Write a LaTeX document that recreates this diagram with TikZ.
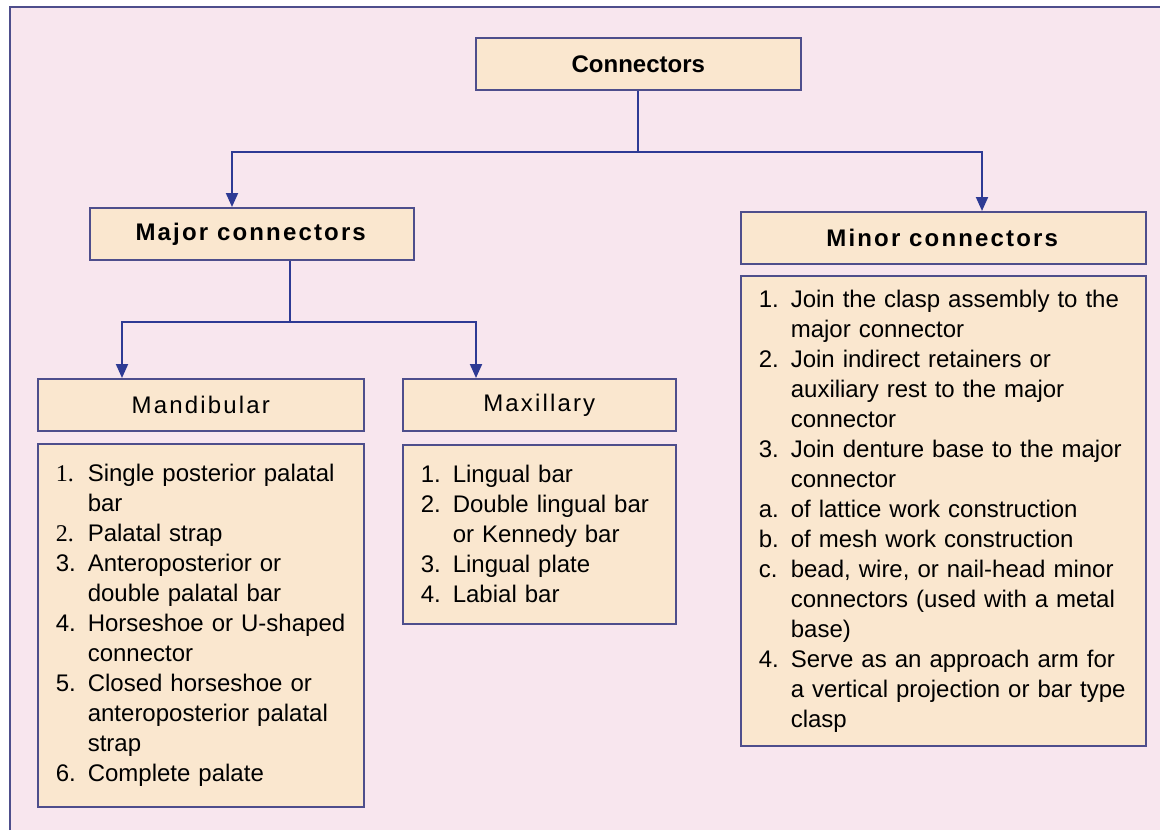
\documentclass[tikz,border=0pt]{standalone}
\usepackage{fontspec}
\setmainfont{Liberation Sans}
\newfontfamily\numserif{Liberation Serif}
\usepackage{xcolor}
\usetikzlibrary{arrows.meta,positioning}
\definecolor{pagepink}{HTML}{F8E6EE}
\definecolor{boxfill}{HTML}{FAE7CF}
\definecolor{boxline}{HTML}{4E4E8C}
\definecolor{arrline}{HTML}{2E3A94}
\newcommand{\itemno}[1]{\makebox[16pt][l]{#1}}
\newcommand{\itemgap}{\hspace*{16pt}}

\begin{document}
\begin{tikzpicture}[
  x=0.5pt, y=-0.5pt,
  font=\fontsize{12}{15}\selectfont,
  hbox/.style={draw=boxline, line width=0.8pt, fill=boxfill, anchor=north west,
               inner sep=0pt, minimum height=26pt, align=center},
  lbox/.style={draw=boxline, line width=0.8pt, fill=boxfill, anchor=north west,
               inner xsep=9pt, inner ysep=0pt, align=left},
  spaced/.style={font=\fontsize{12}{15}\selectfont\addfontfeatures{LetterSpace=9}},
  arr/.style={-{Triangle[length=7pt, width=6pt]}, line width=1pt, draw=arrline},
  link/.style={line width=1pt, draw=arrline},
]
\useasboundingbox (0,0) rectangle (1160,830);
\fill[pagepink] (10,7) rectangle (1160,830);
\draw[boxline, line width=1pt] (10,830) -- (10,7) -- (1160,7);

\node[hbox, minimum width=162.5pt] (conn) at (475,37) {\textbf{Connectors}};
\node[hbox, minimum width=162pt, spaced] (major) at (89,207)
  {\textbf{Major connectors}};
\node[hbox, minimum width=202.5pt, spaced] (minor) at (740,211)
  {\textbf{Minor connectors}};
\node[hbox, minimum width=163pt, spaced] (mand) at (37,378) {Mandibular};
\node[hbox, minimum width=136.5pt, spaced] (maxi) at (402,378) {Maxillary};

\node[lbox, text width=145pt, minimum height=181.5pt] (mandlist) at (37,443)
  {\itemno{\numserif 1.}Single posterior palatal\\
   \itemgap bar\\
   \itemno{\numserif 2.}Palatal strap\\
   \itemno{3.}Anteroposterior or\\
   \itemgap double palatal bar\\
   \itemno{4.}Horseshoe or U-shaped\\
   \itemgap connector\\
   \itemno{5.}Closed horseshoe or\\
   \itemgap anteroposterior palatal\\
   \itemgap strap\\
   \itemno{6.}Complete palate};
\node[lbox, text width=118.5pt, minimum height=89.5pt] (maxilist) at (402,444)
  {\itemno{1.}Lingual bar\\
   \itemno{2.}Double lingual bar\\
   \itemgap or Kennedy bar\\
   \itemno{3.}Lingual plate\\
   \itemno{4.}Labial bar};
\node[lbox, text width=184.5pt, minimum height=235pt] (minorlist) at (740,275)
  {\itemno{1.}Join the clasp assembly to the\\
   \itemgap major connector\\
   \itemno{2.}Join indirect retainers or\\
   \itemgap auxiliary rest to the major\\
   \itemgap connector\\
   \itemno{3.}Join denture base to the major\\
   \itemgap connector\\
   \itemno{a.}of lattice work construction\\
   \itemno{b.}of mesh work construction\\
   \itemno{c.}bead, wire, or nail-head minor\\
   \itemgap connectors (used with a metal\\
   \itemgap base)\\
   \itemno{4.}Serve as an approach arm for\\
   \itemgap a vertical projection or bar type\\
   \itemgap clasp};

\coordinate (split1) at (conn.south |- 0,152);
\coordinate (split2) at (290,322);
\draw[link] (conn.south) -- (split1);
\draw[arr] (split1) -| (major.north -| 232,0);
\draw[arr] (split1) -| (minor.north -| 982,0);
\draw[link] (major.south -| split2) -- (split2);
\draw[arr] (split2) -| (mand.north -| 122,0);
\draw[arr] (split2) -| (maxi.north -| 476,0);
\end{tikzpicture}
\end{document}
